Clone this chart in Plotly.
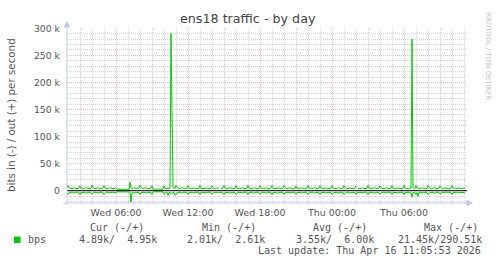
import plotly.graph_objects as go
import pandas as pd

# ---------------- data: 5-minute samples, kbit/s ----------------
start_time = "2026-04-15 01:55"
step = "5min"

out_kbps = [
    6.2,  # Wed 01:55
    9.8, 5.1, 4.2, 4.6, 3.9, 4.4, 5.8, 4.1, 3.7, 4.5, 4.0, 4.8,   # Wed 02
    9.2, 4.9, 4.5, 3.8, 4.3, 4.0, 6.1, 4.4, 3.9, 4.2, 4.6, 4.1,   # Wed 03
    10.1, 5.3, 4.0, 4.4, 3.8, 4.7, 5.6, 4.2, 4.0, 3.8, 4.3, 4.5,  # Wed 04
    9.5, 5.0, 4.3, 4.1, 4.5, 3.9, 5.9, 4.6, 3.8, 4.2, 4.4, 4.0,   # Wed 05
    5.2, 2.6, 2.6, 2.6, 2.6, 2.6, 2.6, 2.6, 2.6, 2.6, 2.6, 2.6,   # Wed 06
    2.6, 2.6, 16.0, 5.4, 4.6, 4.1, 6.0, 4.4, 3.9, 4.6, 4.2, 4.7,  # Wed 07
    9.6, 5.2, 4.3, 4.0, 4.6, 4.1, 5.7, 4.3, 3.8, 4.4, 4.1, 4.6,   # Wed 08
    9.4, 3.0, 2.9, 3.0, 2.8, 3.1, 2.9, 3.0, 2.9, 2.8, 3.0, 2.9,   # Wed 09
    9.0, 4.8, 4.4, 4.0, 4.7, 4.2, 5.1, 290.51, 150.0, 7.5, 4.6, 4.3,  # Wed 10
    9.7, 5.3, 4.1, 4.5, 3.9, 4.3, 6.0, 4.2, 3.8, 4.6, 4.0, 4.5,   # Wed 11
    9.3, 5.0, 4.4, 3.9, 4.2, 4.6, 5.5, 4.0, 4.3, 3.9, 4.5, 4.2,   # Wed 12
    9.9, 4.7, 4.2, 4.5, 4.0, 4.1, 5.8, 4.5, 3.7, 4.3, 4.4, 4.0,   # Wed 13
    9.1, 5.2, 3.9, 4.3, 4.6, 3.8, 5.4, 4.1, None, 4.0, 4.7, 4.3,  # Wed 14
    9.6, 4.9, 4.5, 4.0, 4.2, 4.4, 6.2, 4.3, 3.9, 4.5, 3.8, 4.6,   # Wed 15
    9.4, 5.1, 4.0, 4.6, 3.9, 4.3, 5.6, 4.2, 4.1, 3.8, 4.4, 4.2,   # Wed 16
    9.8, 4.8, 4.3, 4.1, 4.5, 4.0, 5.9, 4.4, 3.8, 4.2, 4.6, 4.1,   # Wed 17
    9.2, 5.0, 4.4, 3.9, 4.3, 4.5, 5.7, 4.0, 4.2, 4.4, 3.9, 4.5,   # Wed 18
    9.7, 4.9, 4.1, 4.5, 4.0, 4.2, 6.0, 4.3, 3.8, 4.6, 4.1, 4.3,   # Wed 19
    9.5, 5.2, 4.3, 4.0, 4.6, 3.9, 5.5, 4.5, 4.0, 4.1, 4.4, 4.0,   # Wed 20
    9.0, 4.8, 4.5, 4.2, 3.9, 4.4, 5.8, 4.1, 4.3, 3.8, 4.5, 4.6,   # Wed 21
    9.8, 5.1, 4.0, 4.4, 4.2, 4.1, 6.1, 4.4, 3.9, 4.3, 4.0, 4.4,   # Wed 22
    9.3, 4.9, 4.4, 3.8, 4.5, 4.3, 5.6, 4.2, 4.1, 4.5, 3.8, 4.2,   # Wed 23
    9.6, 5.0, 4.2, 4.6, 3.9, 4.0, 5.9, 4.6, 3.8, 4.2, 4.4, 4.1,   # Thu 00
    9.4, 5.3, 4.1, 4.3, 4.4, 3.9, 5.7, 4.0, 4.2, 4.5, 4.1, 4.3,   # Thu 01
    9.1, None, 4.4, 4.0, 4.6, 4.2, 5.5, 4.3, 3.9, 4.1, 4.5, 4.0,  # Thu 02
    9.7, 4.8, 4.3, 4.5, 3.8, 4.4, 6.0, 4.1, 4.0, 4.4, 3.9, 4.6,   # Thu 03
    9.2, 5.1, 4.0, 4.2, 4.5, 4.1, 5.8, 4.4, 3.8, 4.3, 4.2, 4.4,   # Thu 04
    9.5, 4.9, 4.5, 3.9, 4.2, 4.6, 5.6, 4.0, 4.3, 3.9, 4.4, 4.1,   # Thu 05
    9.8, 5.0, 4.2, 4.4, 4.0, 4.3, 5.9, 4.5, 280.0, 6.2, 4.1, 4.5, # Thu 06
    9.3, 4.7, 5.5, 4.1, 4.5, 4.0, 5.7, 4.2, 3.9, 4.4, 4.3, 4.0,   # Thu 07
    9.6, 5.2, 4.3, 4.5, 3.9, 4.2, 6.0, 4.3, 4.1, 4.0, 4.6, 4.2,   # Thu 08
    9.0, 4.9, 4.0, 4.2, 4.4, 4.5, 5.5, 4.1, 3.8, 4.3, 4.2, 4.5,   # Thu 09
    9.7, 5.1, 4.4, 3.9, 4.3, 4.1, 5.8, 4.4, 4.2, 4.6, 3.9, 4.3,   # Thu 10
    5.3, 4.95,                                                    # Thu 11
]

in_kbps = [
    3.4,  # Wed 01:55
    6.8, 3.6, 2.9, 3.3, 2.7, 3.1, 4.5, 3.0, 2.6, 3.2, 2.8, 3.5,   # Wed 02
    7.1, 3.4, 3.1, 2.8, 3.0, 2.9, 4.7, 3.2, 2.7, 3.0, 3.3, 3.0,   # Wed 03
    6.5, 3.7, 2.8, 3.1, 2.6, 3.4, 4.2, 3.0, 2.9, 2.7, 3.1, 3.2,   # Wed 04
    6.9, 3.5, 3.0, 2.9, 3.2, 2.8, 4.4, 3.3, 2.7, 3.0, 3.1, 2.9,   # Wed 05
    3.4, 2.0, 2.0, 2.0, 2.0, 2.0, 2.0, 2.0, 2.0, 2.0, 2.0, 2.0,   # Wed 06
    2.0, 2.0, 2.4, 21.45, 3.8, 3.1, 4.6, 3.2, 2.8, 3.3, 3.0, 3.4, # Wed 07
    7.0, 3.6, 3.0, 2.8, 3.3, 2.9, 4.3, 3.1, 2.7, 3.2, 2.9, 3.3,   # Wed 08
    6.6, 2.2, 2.1, 2.2, 2.1, 2.3, 2.1, 2.2, 2.01, 2.1, 2.2, 2.1,  # Wed 09
    6.4, 3.5, 3.0, 2.9, 8.6, 3.3, 3.6, 4.2, 5.0, 3.4, 3.1, 8.2,   # Wed 10
    7.2, 3.7, 2.9, 3.2, 2.7, 3.0, 4.6, 3.0, 2.6, 3.3, 2.8, 3.2,   # Wed 11
    6.7, 3.5, 3.1, 2.8, 3.0, 3.3, 4.1, 2.9, 3.1, 2.7, 3.2, 3.0,   # Wed 12
    6.9, 3.4, 3.0, 3.2, 2.8, 2.9, 4.4, 3.2, 2.6, 3.1, 3.1, 2.9,   # Wed 13
    6.5, 3.6, 2.8, 3.1, 3.3, 2.7, 4.0, 3.0, 3.0, 2.9, 3.4, 3.1,   # Wed 14
    7.0, 3.5, 3.2, 2.9, 3.0, 3.2, 4.7, 3.1, 2.8, 3.2, 2.7, 3.3,   # Wed 15
    6.8, 3.6, 2.9, 3.3, 2.8, 3.1, 4.2, 3.0, 2.9, 2.7, 3.2, 3.0,   # Wed 16
    7.1, 3.4, 3.1, 2.9, 3.2, 2.9, 4.5, 3.2, 2.7, 3.0, 3.3, 2.9,   # Wed 17
    6.6, 3.5, 3.1, 2.8, 3.1, 3.2, 4.3, 2.9, 3.0, 3.1, 2.8, 3.2,   # Wed 18
    7.0, 3.4, 2.9, 3.2, 2.9, 3.0, 4.6, 3.1, 2.7, 3.3, 2.9, 3.1,   # Wed 19
    6.8, 3.7, 3.0, 2.9, 3.3, 2.8, 4.1, 3.2, 2.9, 3.0, 3.1, 2.9,   # Wed 20
    6.4, 3.4, 3.2, 3.0, 2.8, 3.1, 4.4, 3.0, 3.1, 2.7, 3.2, 3.3,   # Wed 21
    7.1, 3.6, 2.8, 3.1, 3.0, 2.9, 4.7, 3.2, 2.8, 3.1, 2.9, 3.2,   # Wed 22
    6.7, 3.5, 3.1, 2.7, 3.2, 3.1, 4.2, 3.0, 3.0, 3.2, 2.7, 3.0,   # Wed 23
    6.9, 3.5, 3.0, 3.3, 2.8, 2.9, 4.5, 3.3, 2.7, 3.0, 3.1, 2.9,   # Thu 00
    6.8, 3.7, 2.9, 3.1, 3.2, 2.8, 4.3, 2.9, 3.0, 3.2, 2.9, 3.1,   # Thu 01
    6.5, 3.4, 3.1, 2.9, 3.3, 3.0, 4.1, 3.1, 2.8, 2.9, 3.2, 2.9,   # Thu 02
    7.0, 3.4, 3.0, 3.2, 2.7, 3.2, 4.6, 3.0, 2.9, 3.1, 2.8, 3.3,   # Thu 03
    6.6, 3.6, 2.8, 3.0, 3.2, 3.0, 4.4, 3.2, 2.7, 3.0, 3.0, 3.2,   # Thu 04
    6.8, 3.5, 3.2, 2.8, 3.0, 3.3, 4.2, 2.9, 3.1, 2.8, 3.1, 2.9,   # Thu 05
    7.1, 3.5, 3.0, 3.1, 2.9, 3.1, 4.5, 3.3, 12.0, 4.0, 3.0, 3.2,  # Thu 06
    6.7, 3.4, 10.6, 2.9, 3.2, 2.9, 4.3, 3.0, 2.8, 3.1, 3.1, 2.9,  # Thu 07
    6.9, 3.6, 3.1, 3.2, 2.8, 3.0, 4.6, 3.1, 3.0, 2.9, 3.3, 3.0,   # Thu 08
    6.4, 3.5, 2.8, 3.0, 3.2, 3.2, 4.1, 3.0, 2.7, 3.1, 3.0, 3.2,   # Thu 09
    7.0, 3.6, 3.2, 2.8, 3.1, 2.9, 4.4, 3.2, 3.0, 3.3, 2.8, 3.1,   # Thu 10
    3.6, 4.89,                                                    # Thu 11
]

x_range = ["2026-04-15 01:55", "2026-04-16 11:15"]
x_tick_times = ["2026-04-15 03:00", "2026-04-15 06:00", "2026-04-15 09:00",
                "2026-04-15 12:00", "2026-04-15 15:00", "2026-04-15 18:00",
                "2026-04-15 21:00", "2026-04-16 00:00", "2026-04-16 03:00",
                "2026-04-16 06:00", "2026-04-16 09:00"]
x_tick_text = ["", "Wed 06:00", "", "Wed 12:00", "", "Wed 18:00", "",
               "Thu 00:00", "", "Thu 06:00", ""]
y_tick_vals = [0, 50000, 100000, 150000, 200000, 250000, 300000]
y_tick_text = ["0", "50 k", "100 k", "150 k", "200 k", "250 k", "300 k"]
y_range = [-22700, 300600]

title_text = "ens18 traffic - by day"
y_title = "bits in (-) / out (+) per second"
legend_name = "bps"
legend_headers = ["Cur (-/+)", "Min (-/+)", "Avg (-/+)", "Max (-/+)"]
legend_values = ["4.89k/  4.95k", "2.01k/  2.61k", "3.55k/  6.00k", "21.45k/290.51k"]
last_update = "Last update: Thu Apr 16 11:05:53 2026"
watermark = "RRDTOOL / TOBI OETIKER"

# ---------------- figure ----------------
W, H = 497, 264
L, R, T, B = 67, 30, 28, 61
PW, PH = W - L - R, H - T - B
GREEN = "#00cc00"
AXIS = "#c4c8f0"
TXT = "#555555"
MAJOR_GRID = "#f0bcbc"
MINOR_GRID = "#d4d4d4"


def px(xp):
    return (xp - L) / PW


def py(yp):
    return (H - B - yp) / PH


times = pd.date_range(start_time, periods=len(out_kbps), freq=step)
out_bps = [None if v is None else v * 1000 for v in out_kbps]
in_bps = [None if v is None else -v * 1000 for v in in_kbps]

fig = go.Figure()
fig.add_trace(go.Scatter(x=times, y=in_bps, mode="lines",
                         line=dict(color=GREEN, width=1), showlegend=False,
                         connectgaps=False, hoverinfo="skip"))
fig.add_trace(go.Scatter(x=times, y=out_bps, mode="lines",
                         line=dict(color=GREEN, width=1), showlegend=False,
                         connectgaps=False, hoverinfo="skip"))

shapes = [
    # zero line
    dict(type="line", xref="paper", yref="y", x0=0, x1=1, y0=0, y1=0,
         line=dict(color="black", width=1), layer="above"),
    # y axis line + arrow
    dict(type="line", xref="paper", yref="paper", x0=0, x1=0, y0=py(205), y1=py(25),
         line=dict(color=AXIS, width=1), layer="above"),
    dict(type="path", xref="paper", yref="paper",
         path=f"M {px(67)},{py(21)} L {px(63.5)},{py(27.5)} L {px(70.5)},{py(27.5)} Z",
         fillcolor=AXIS, line=dict(width=0), layer="above"),
    # x axis line + arrow
    dict(type="line", xref="paper", yref="paper", x0=px(63), x1=px(469), y0=0, y1=0,
         line=dict(color=AXIS, width=1), layer="above"),
    dict(type="path", xref="paper", yref="paper",
         path=f"M {px(473)},{py(203)} L {px(466.5)},{py(199.5)} L {px(466.5)},{py(206.5)} Z",
         fillcolor=AXIS, line=dict(width=0), layer="above"),
    # legend colour square
    dict(type="rect", xref="paper", yref="paper", x0=px(14), x1=px(20.5),
         y0=py(243), y1=py(236.5), fillcolor=GREEN, line=dict(width=0)),
]

MONO = "DejaVu Sans Mono"
SANS = "DejaVu Sans"
ann = []
ann.append(dict(text=title_text, x=px(247.5), y=py(18.5), xanchor="center", yanchor="middle",
                font=dict(family=SANS, size=12.7, color="#444444")))
ann.append(dict(text=y_title, x=px(11), y=py(115), xanchor="center", yanchor="middle",
                textangle=-90, font=dict(family=SANS, size=10.3, color=TXT)))
ann.append(dict(text=watermark, x=px(487.5), y=py(56), xanchor="center", yanchor="middle",
                textangle=90, font=dict(family=SANS, size=6.8, color="#c0c0c0")))
header_x = [89, 201, 312.3, 422.7]
value_x = [78.3, 186, 295, 396.7]
for hx, htxt in zip(header_x, legend_headers):
    ann.append(dict(text=htxt.replace(" ", "\u00a0"), x=px(hx - 1), y=py(227.7),
                    xanchor="left", yanchor="middle",
                    font=dict(family=MONO, size=10, color=TXT)))
for vx, vtxt in zip(value_x, legend_values):
    ann.append(dict(text=vtxt.replace(" ", "\u00a0"), x=px(vx - 1), y=py(239.5),
                    xanchor="left", yanchor="middle",
                    font=dict(family=MONO, size=10, color=TXT)))
ann.append(dict(text=legend_name, x=px(26.7 - 1), y=py(239.5), xanchor="left", yanchor="middle",
                font=dict(family=MONO, size=10, color=TXT)))
ann.append(dict(text=last_update.replace(" ", "\u00a0"), x=px(483.3), y=py(250.7),
                xanchor="right", yanchor="middle",
                font=dict(family=MONO, size=10, color=TXT)))
for a in ann:
    a.update(xref="paper", yref="paper", showarrow=False)

fig.update_layout(
    width=W, height=H,
    margin=dict(l=L, r=R, t=T, b=B, pad=0),
    paper_bgcolor="white", plot_bgcolor="white",
    shapes=shapes, annotations=ann, showlegend=False,
    xaxis=dict(
        type="date", range=x_range, tickmode="array",
        tickvals=x_tick_times, ticktext=x_tick_text,
        showgrid=True, gridcolor=MAJOR_GRID, griddash="1px,1px", gridwidth=1,
        ticks="", showline=False, zeroline=False,
        tickfont=dict(family=SANS, size=9.5, color=TXT),
        ticklabelstandoff=2,
        minor=dict(dtick=3600000, tick0="2026-04-15 00:00", showgrid=True,
                   gridcolor=MINOR_GRID, griddash="1px,1px", gridwidth=1),
    ),
    yaxis=dict(
        range=y_range, tickmode="array", tickvals=y_tick_vals, ticktext=y_tick_text,
        showgrid=True, gridcolor=MAJOR_GRID, griddash="1px,1px", gridwidth=1,
        ticks="", showline=False, zeroline=False,
        tickfont=dict(family=SANS, size=9.3, color=TXT),
        ticklabelstandoff=6,
        minor=dict(dtick=10000, tick0=0, showgrid=True,
                   gridcolor=MINOR_GRID, griddash="1px,1px", gridwidth=1),
    ),
)

fig.write_html("out.html", config={"displayModeBar": False})
